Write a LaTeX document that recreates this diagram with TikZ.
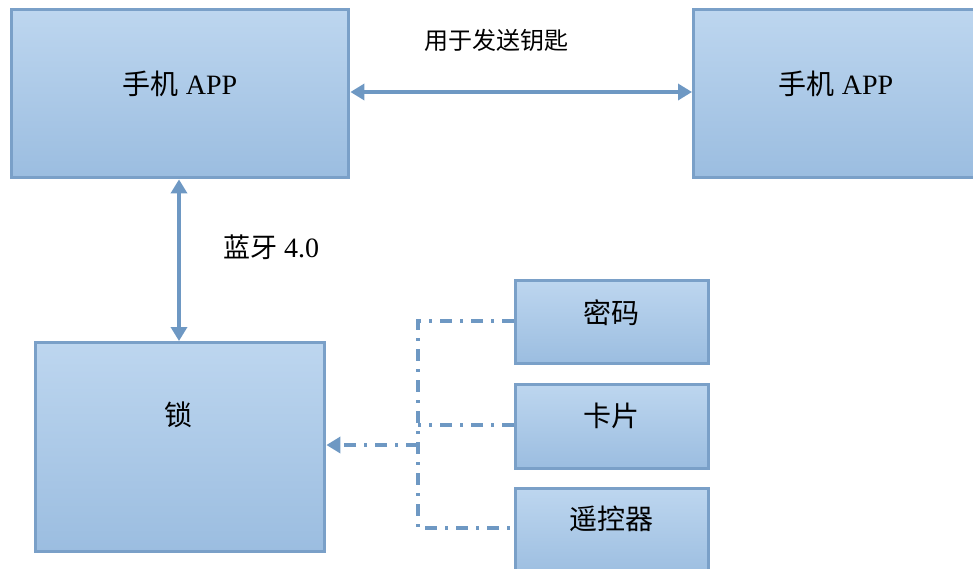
\documentclass[tikz,border=0pt]{standalone}
\usepackage{fontspec}
\setmainfont{Liberation Serif}
\newfontfamily\cjk{Noto Sans CJK SC}
\usetikzlibrary{arrows.meta}
\definecolor{boxtop}{HTML}{BDD6EF}
\definecolor{boxbot}{HTML}{9BBDE0}
\definecolor{boxline}{HTML}{7AA0C8}
\definecolor{conn}{HTML}{6E98C3}
\tikzset{
  blk/.style={draw=boxline, line width=3.4pt, top color=boxtop, bottom color=boxbot, anchor=north west, inner sep=0pt},
  txt/.style={inner sep=0pt, font=\fontsize{28}{32}\selectfont},
  tip/.style={-{Triangle[length=14pt,width=16pt]}},
  biarrow/.style={draw=conn, line width=3.4pt, {Triangle[length=14pt,width=16pt]}-{Triangle[length=14pt,width=16pt]}},
  dashdot/.style={draw=conn, line width=3.4pt, dash pattern=on 12pt off 8pt on 3pt off 8pt}
}
\begin{document}
\begin{tikzpicture}[x=1pt,y=-1pt]
\useasboundingbox (0,0) rectangle (973,568);
\node[blk, minimum width=337pt, minimum height=168pt] (app1) at (10,8) {};
\node[blk, minimum width=300pt, minimum height=168pt] (app2) at (692,8) {};
\node[blk, minimum width=289pt, minimum height=209pt] (lock) at (34,341) {};
\node[blk, minimum width=193pt, minimum height=83pt] (pwd) at (514,279) {};
\node[blk, minimum width=193pt, minimum height=84pt] (card) at (514,383) {};
\node[blk, minimum width=193pt, minimum height=90pt] (remote) at (514,487) {};
\node[txt] (app1t) at (180,84) {{\cjk 手机} APP};
\node[txt] (app2t) at (836,84) {{\cjk 手机} APP};
\node[txt] (lockt) at (178,415) {\cjk 锁};
\node[txt] (pwdt) at (611,313) {\cjk 密码};
\node[txt] (cardt) at (611,416) {\cjk 卡片};
\node[txt] (remotet) at (611,519) {\cjk 遥控器};
\node[txt, font=\fontsize{24}{28}\selectfont] (l1) at (496,40) {\cjk 用于发送钥匙};
\node[txt] (l2) at (271,247) {{\fontsize{27}{30}\selectfont\cjk 蓝牙} 4.0};
\draw[biarrow] (app1.east |- 0,92) -- (app2.west |- 0,92);
\draw[biarrow] (179,0 |- app1.south) -- (179,0 |- lock.north);
\coordinate (j1) at (418,321);
\coordinate (j2) at (418,425);
\coordinate (j3) at (418,528);
\coordinate (jm) at (418,445);
\draw[dashdot] (pwd.west |- j1) -- (j1) -- (j3) -- (remote.west |- j3);
\draw[dashdot] (card.west |- j2) -- (j2);
\draw[dashdot, tip] (jm) -- (lock.east |- jm);
\end{tikzpicture}
\end{document}
